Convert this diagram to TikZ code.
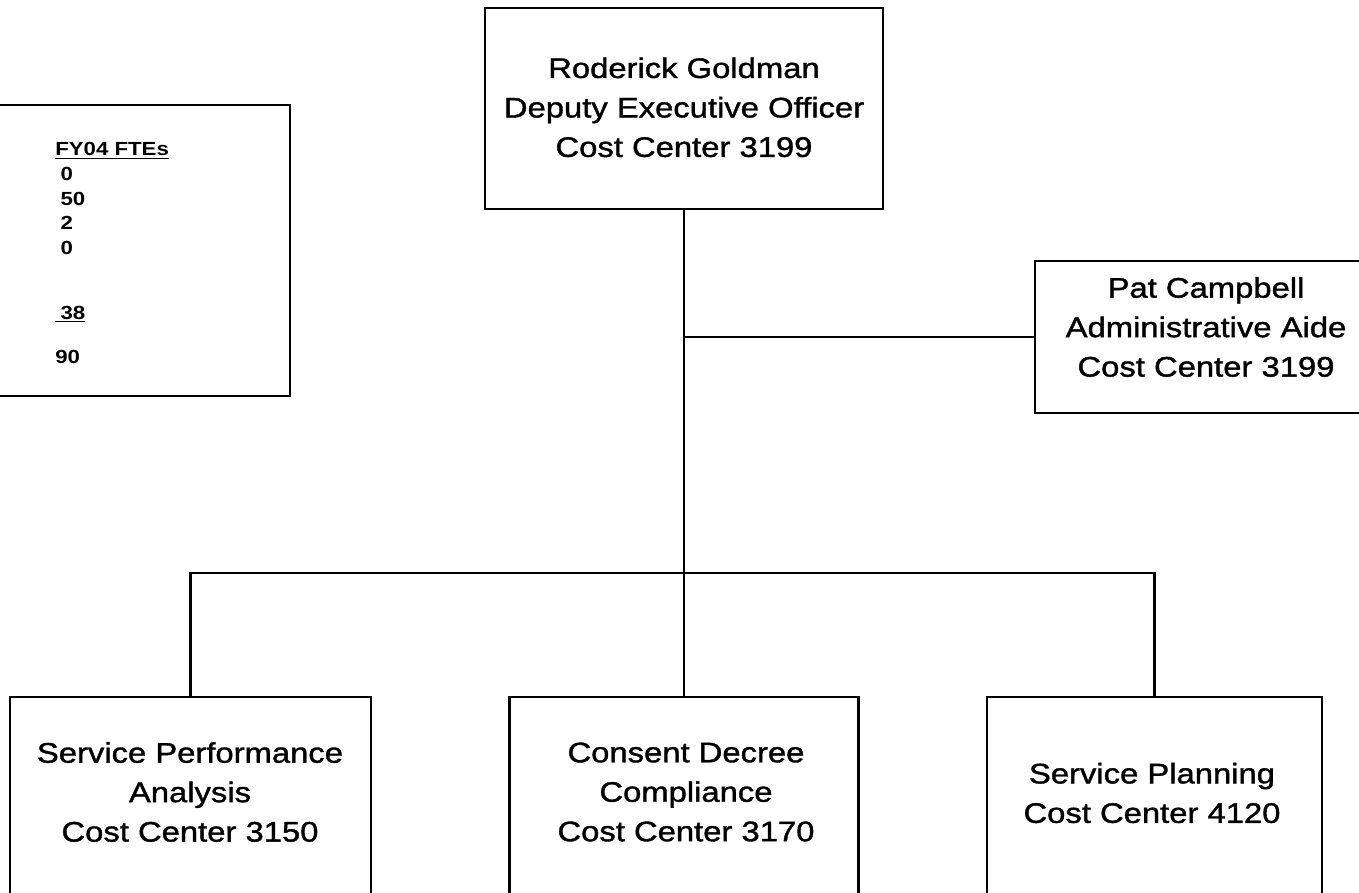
\documentclass[tikz,border=0pt]{standalone}
\usepackage{fontspec}
\setmainfont{Liberation Sans}[FakeStretch=1.17]
\newfontfamily\lblfont{Liberation Sans}[FakeStretch=1.16, FakeBold=1.3]
\begin{document}
\begin{tikzpicture}[x=0.75pt,y=-0.75pt,
  box/.style={draw, line width=1.7pt, rectangle, inner sep=0pt},
  conn/.style={draw, line width=2.1pt},
  lbl/.style={align=center, font=\lblfont\fontsize{21.2}{29.6}\selectfont, inner sep=0pt},
  ftelbl/.style={align=left, font=\bfseries\fontsize{14.25}{18.5}\selectfont, inner sep=0pt},
]
\useasboundingbox (0,0) rectangle (1359,892);
\clip (0,0) rectangle (1359,892);

% boxes
\node[box, minimum width=298.5pt, minimum height=150.75pt] (top) at (684,108.5) {};
\node[box, minimum width=225pt, minimum height=218.25pt] (fte) at (140,250.5) {};
\node[box, minimum width=256.5pt, minimum height=114pt] (pat) at (1206,337) {};
\node[box, minimum width=270.75pt, minimum height=156pt] (spa) at (190.5,801) {};
\node[box, minimum width=261.75pt, minimum height=156pt] (cdc) at (684,801) {};
\node[box, minimum width=251.25pt, minimum height=156pt] (sp) at (1154.5,801) {};

% texts
\node[lbl] (toptext) at (684,107.3) {Roderick Goldman\\Deputy Executive Officer\\Cost Center 3199};
\node[lbl] (pattext) at (1206,327) {Pat Campbell\\Administrative Aide\\Cost Center 3199};
\node[lbl] (spatext) at (190,792) {Service Performance\\Analysis\\Cost Center 3150};
\node[lbl] (cdctext) at (686,792) {Consent Decree\\Compliance\\Cost Center 3170};
\node[lbl] (sptext) at (1152,793) {Service Planning\\Cost Center 4120};
\node[ftelbl, anchor=north west] (ftetext) at (55,142.4) {\underline{FY04 FTEs}\\
\hspace*{0.28em}0\\
\hspace*{0.28em}50\\
\hspace*{0.28em}2\\
\hspace*{0.28em}0\\[30.25pt]
\underline{\hspace*{0.28em}38}\\[14.5pt]
90};

% connectors
\coordinate (jp) at (top.south |- pat.west);
\coordinate (jb) at (684,573);
\draw[conn] (top.south) -- (cdc.north);
\draw[conn] (jp) -- (pat.west);
\draw[conn] (spa.north) -- (spa.north |- jb) -- (sp.north |- jb) -- (sp.north);
\end{tikzpicture}
\end{document}
